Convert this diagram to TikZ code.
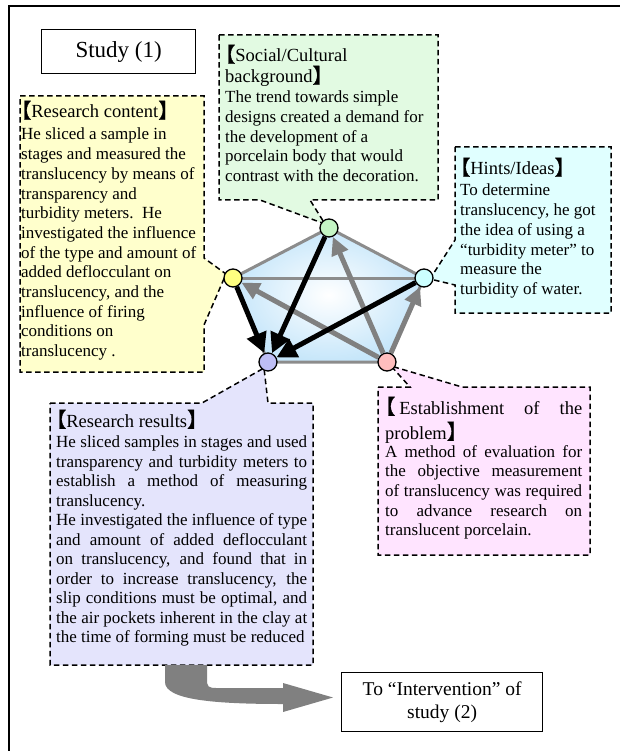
\documentclass[tikz,border=0pt]{standalone}
\usepackage{fontspec}
\setmainfont{Liberation Serif}
\newfontfamily\cjk[RawFeature=+halt, FakeBold=1.5, Scale=1.1]{Noto Sans CJK JP}
\usetikzlibrary{arrows.meta}

\newcommand\lbr{{\cjk 【}}
\newcommand\rbr{{\cjk 】}}
\newcommand\hdrfont{\fontsize{18.5}{21}\selectfont}
\newcommand\bodyfont{\fontsize{17}{19.7}\selectfont}

\definecolor{cgreen}{RGB}{226,250,226}
\definecolor{cyellow}{RGB}{255,255,204}
\definecolor{ccyan}{RGB}{224,255,255}
\definecolor{clav}{RGB}{228,228,252}
\definecolor{cpink}{RGB}{255,228,255}
\definecolor{dgreen}{RGB}{196,245,196}
\definecolor{dyellow}{RGB}{255,255,128}
\definecolor{dcyan}{RGB}{204,255,255}
\definecolor{dlav}{RGB}{190,190,245}
\definecolor{dpink}{RGB}{255,190,190}
\definecolor{pentblue}{RGB}{198,230,250}
\definecolor{edgegray}{RGB}{140,140,140}
\definecolor{arrowgray}{RGB}{128,128,128}

\begin{document}
\begin{tikzpicture}[x=1pt,y=-1pt,
  callout/.style={draw=black, line width=1.5pt, dash pattern=on 5.5pt off 3.5pt},
  dot/.style={circle, draw=black, line width=1.3pt, minimum size=18pt, inner sep=0pt},
  txt/.style={inner sep=0pt, anchor=base west},
  penedge/.style={draw=edgegray, line width=3pt},
  blackarrow/.style={line width=5pt, black, -{Triangle[length=20pt,width=20pt]}},
  grayarrow/.style={line width=5pt, arrowgray, -{Triangle[length=18pt,width=17pt]}},
  plainbox/.style={draw=black, line width=1.3pt, inner sep=0pt}
]
\useasboundingbox (0,0) rectangle (620,751);

% outer frame
\draw[line width=1.5pt] (9,751) -- (9,6) -- (620,6);

% title box
\node[plainbox, minimum width=154pt, minimum height=44pt, anchor=north west,
      font=\fontsize{23}{26}\selectfont] (study) at (41,29) {Study (1)};

% vertices of the pentagon
\coordinate (G) at (329,228);
\coordinate (Y) at (233,278);
\coordinate (C) at (424,278);
\coordinate (L) at (268,362);
\coordinate (P) at (387,362);

% callouts
\filldraw[callout, fill=cgreen] (219,35) -- (438,35) -- (438,200) -- (310,200)
  -- (325,224) -- (260,200) -- (219,200) -- cycle;
\filldraw[callout, fill=cyellow] (20,96) -- (204,96) -- (204,258) -- (226,274)
  -- (204,325) -- (204,372) -- (20,372) -- cycle;
\filldraw[callout, fill=ccyan] (455,147) -- (611,147) -- (611,313) -- (455,313)
  -- (455,285) -- (430,279) -- (455,240) -- cycle;
\filldraw[callout, fill=clav] (50,403) -- (202,403) -- (264,368) -- (268,403)
  -- (313,403) -- (313,665) -- (50,665) -- cycle;
\filldraw[callout, fill=cpink] (378,387) -- (410,387) -- (391,366) -- (462,387)
  -- (590,387) -- (590,555) -- (378,555) -- cycle;

% pentagon
\shade[inner color=white, outer color=pentblue] (G) -- (C) -- (P) -- (L) -- (Y) -- cycle;
\draw[penedge, line join=round] (G) -- (C) -- (P) -- (L) -- (Y) -- cycle;
\draw[penedge] (Y) -- (C);

% element markers
\node[dot, fill=dgreen] (g) at (G) {};
\node[dot, fill=dyellow] (y) at (Y) {};
\node[dot, fill=dcyan] (c) at (C) {};
\node[dot, fill=dlav] (l) at (L) {};
\node[dot, fill=dpink] (p) at (P) {};

% relations
\draw[grayarrow] (p) -- (g);
\draw[grayarrow] (p) -- (y);
\draw[grayarrow] (p) -- (c);
\draw[blackarrow] (y) -- (l);
\draw[blackarrow] (g) -- (l);
\draw[blackarrow] (c) -- (l);

% texts
\node[txt] (socialtxt) at (225,62) {\parbox[t]{300pt}{\raggedright
  \hdrfont\lbr Social/Cultural\\background\rbr\par
  \bodyfont The trend towards simple\\
  designs created a demand for\\
  the development of a\\
  porcelain body that would\\
  contrast with the decoration.\par}};

\node[txt] (contenttxt) at (21,118) {\parbox[t]{300pt}{\raggedright
  \hdrfont\lbr Research content\rbr\par\vspace{2.3pt}
  \bodyfont He sliced a sample in\\
  stages and measured the\\
  translucency by means of\\
  transparency and\\
  turbidity meters.\ \ He\\
  investigated the influence\\
  of the type and amount of\\
  added deflocculant on\\
  translucency, and the\\
  influence of firing\\
  conditions on\\
  translucency .\par}};

\node[txt] (hinttxt) at (460,175) {\parbox[t]{300pt}{\raggedright
  \hdrfont\lbr Hints/Ideas\rbr\par\vspace{1.3pt}
  \bodyfont To determine\\
  translucency, he got\\
  the idea of using a\\
  “turbidity meter” to\\
  measure the\\
  turbidity of water.\par}};

\node[txt] (problemtxt) at (385,414) {\parbox[t]{197pt}{
  \fontsize{18.5}{25}\selectfont\lbr\hspace{4pt}Establishment of the\linebreak problem\rbr\par\vspace{-1.7pt}
  \bodyfont A method of evaluation for\linebreak
  the objective measurement\linebreak
  of translucency was required\linebreak
  to advance research on\linebreak
  translucent porcelain.\par}};

\node[txt] (resulttxt) at (56,427) {\parbox[t]{251pt}{
  \hdrfont\lbr Research results\rbr\par\vspace{1.3pt}
  \fontsize{17}{19.5}\selectfont
  He sliced samples in stages and used\linebreak
  transparency and turbidity meters to\linebreak
  establish a method of measuring\linebreak
  translucency.\par
  He investigated the influence of type\linebreak
  and amount of added deflocculant\linebreak
  on translucency, and found that in\linebreak
  order to increase translucency, the\linebreak
  slip conditions must be optimal, and\linebreak
  the air pockets inherent in the clay at\linebreak
  the time of forming must be reduced\par}};

% hand-over to the next study
\node[plainbox, minimum width=201pt, minimum height=59pt, anchor=north west,
      align=center, font=\fontsize{19.5}{23}\selectfont] (next) at (341,672)
      {To “Intervention” of\\study (2)};
\fill[arrowgray] (165,665) -- (165,682) .. controls (165,700) and (215,704) .. (283,704)
  -- (283,712) -- (333,697.5) -- (283,683) -- (283,688) -- (216,688)
  .. controls (208,688) and (207,686) .. (207,680) -- (207,665) -- cycle;
\end{tikzpicture}
\end{document}
